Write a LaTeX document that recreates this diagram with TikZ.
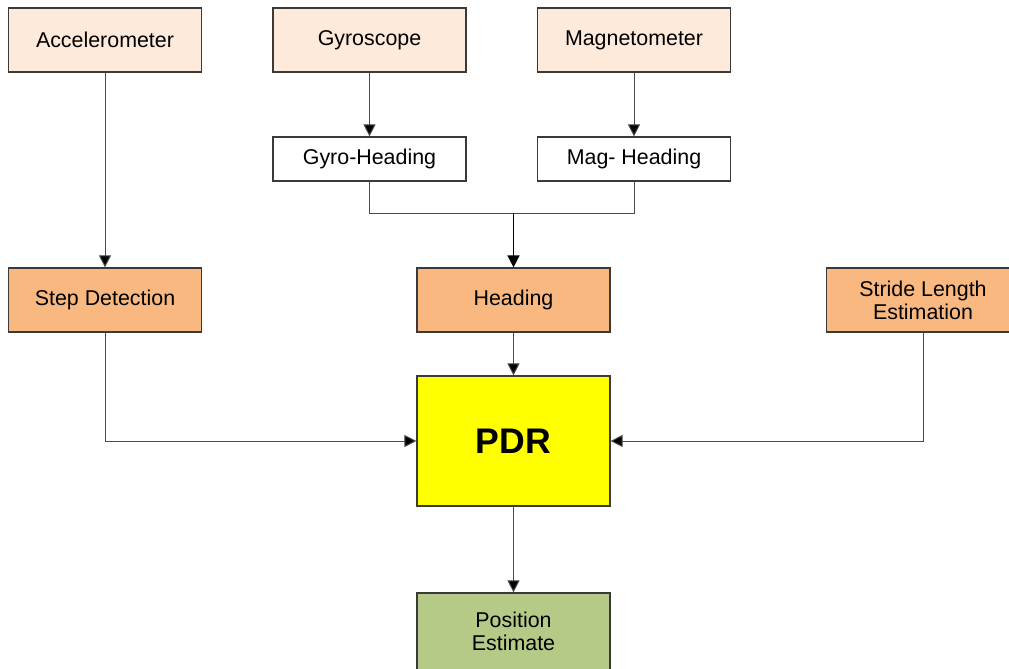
\documentclass[tikz,border=0pt]{standalone}
\usepackage{fontspec}
\setmainfont{Liberation Sans}
\usetikzlibrary{arrows.meta}
\definecolor{sensor}{HTML}{FDEADA}
\definecolor{stage}{HTML}{F9B880}
\definecolor{core}{HTML}{FFFF00}
\definecolor{result}{HTML}{B6CA88}
\definecolor{edge}{HTML}{3A3A3A}
\definecolor{wire}{HTML}{4A4A4A}
\tikzset{
  box/.style={draw=edge, line width=0.6pt, minimum width=96.5pt, minimum height=32pt,
    inner sep=0pt, align=center, font=\fontsize{10.7}{11.5}\selectfont},
  sensorbox/.style={box, fill=sensor},
  headbox/.style={box, fill=white, minimum height=22pt},
  stagebox/.style={box, fill=stage},
  corebox/.style={box, fill=core, minimum height=65pt, font=\fontsize{17.8}{20}\selectfont\bfseries},
  resultbox/.style={box, fill=result, minimum height=38.5pt},
  link/.style={draw=wire, line width=0.5pt},
  arrowlink/.style={link, -{Triangle[length=6pt,width=6pt,fill=black]}},
}
\begin{document}
\begin{tikzpicture}[x=0.5pt,y=-0.5pt]
\clip (0,0) rectangle (1009,669);
\fill[white] (0,0) rectangle (1009,669);

% sensors
\node[sensorbox] (acc)  at (105,40)   {Accelerometer};
\node[sensorbox] (gyro) at (369.5,40) {Gyroscope};
\node[sensorbox] (mag)  at (634,40)   {Magnetometer};

% heading sources
\node[headbox] (gyroh) at (369.5,159) {Gyro-Heading};
\node[headbox] (magh)  at (634,159)   {Mag- Heading};

% processing stages
\node[stagebox] (step)   at (105,300)   {Step Detection};
\node[stagebox] (head)   at (513.5,300) {Heading};
\node[stagebox] (stride) at (923,300)   {Stride Length\\Estimation};

% fusion and output
\node[corebox] (pdr) at (513.5,441) {PDR};
\node[resultbox] (pos) at (513.5,631.5) {Position\\Estimate};

\coordinate (join) at (513.5,213);

% connectors
\draw[arrowlink] (acc.south) -- (step.north);
\draw[arrowlink] (gyro.south) -- (gyroh.north);
\draw[arrowlink] (mag.south) -- (magh.north);
\draw[link] (gyroh.south) |- (join);
\draw[link] (magh.south) |- (join);
\draw[arrowlink, draw=black, line width=0.8pt] (join) -- (head.north);
\draw[arrowlink] (head.south) -- (pdr.north);
\draw[arrowlink] (step.south) |- (pdr.west);
\draw[arrowlink] (stride.south) |- (pdr.east);
\draw[arrowlink] (pdr.south) -- (pos.north);
\end{tikzpicture}
\end{document}
